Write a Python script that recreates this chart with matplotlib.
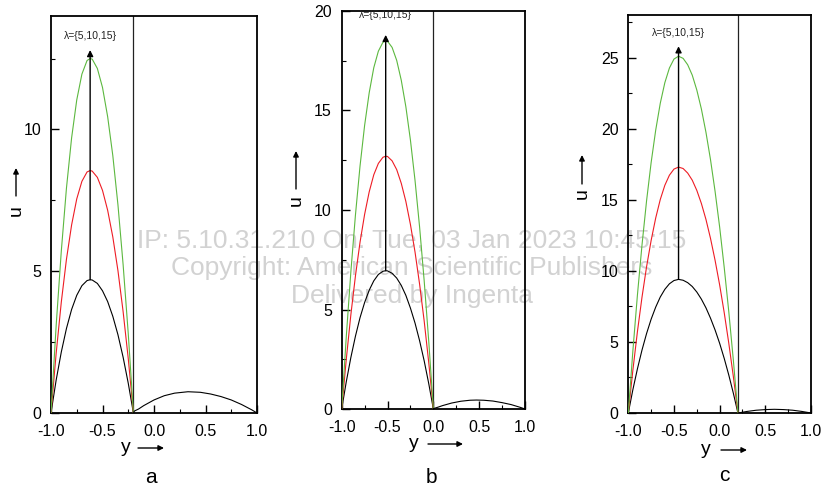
import matplotlib
matplotlib.use("Agg")
import matplotlib.pyplot as plt
from matplotlib.ticker import MultipleLocator

plt.rcParams['font.family'] = ['Liberation Sans', 'DejaVu Sans']

W, H = 822, 490

# ---- data ----
# panel a : interface at y = -0.2
ya_left = [-1.0, -0.95, -0.9, -0.85, -0.8, -0.75, -0.7, -0.65, -0.62, -0.6,
           -0.55, -0.5, -0.45, -0.4, -0.35, -0.3, -0.25, -0.2]
ua_l5 = [0, 1.16, 2.15, 2.98, 3.65, 4.15, 4.49, 4.67, 4.70, 4.69,
         4.57, 4.31, 3.93, 3.41, 2.76, 1.97, 1.05, 0]
ua_l10 = [0, 2.10, 3.91, 5.42, 6.63, 7.55, 8.17, 8.50, 8.55, 8.53,
          8.31, 7.85, 7.15, 6.21, 5.02, 3.58, 1.92, 0]
ua_l15 = [0, 3.08, 5.71, 7.93, 9.70, 11.04, 11.95, 12.43, 12.50, 12.48,
          12.15, 11.48, 10.45, 9.08, 7.34, 5.24, 2.80, 0]
ya_right = [-0.2, -0.19, -0.15, -0.1, -0.05, 0.0, 0.1, 0.2, 0.33, 0.45,
            0.55, 0.65, 0.75, 0.85, 0.95, 1.0]
ua_right = [0.0, 0.07, 0.14, 0.26, 0.36, 0.46, 0.61, 0.70, 0.75, 0.73,
            0.67, 0.58, 0.46, 0.30, 0.11, 0.0]

# panel b : interface at y = 0.0
yb_left = [-1.0, -0.95, -0.9, -0.85, -0.8, -0.75, -0.7, -0.65, -0.6, -0.55,
           -0.52, -0.5, -0.45, -0.4, -0.35, -0.3, -0.25, -0.2, -0.15, -0.1,
           -0.05, 0.0]
ub_l5 = [0, 1.37, 2.59, 3.66, 4.59, 5.35, 5.97, 6.44, 6.76, 6.92, 6.95,
         6.94, 6.82, 6.58, 6.21, 5.71, 5.07, 4.32, 3.43, 2.42, 1.27, 0]
ub_l10 = [0, 2.50, 4.74, 6.69, 8.38, 9.78, 10.91, 11.77, 12.34, 12.65, 12.70,
          12.69, 12.47, 12.03, 11.34, 10.43, 9.27, 7.89, 6.27, 4.42, 2.32, 0]
ub_l15 = [0, 3.64, 6.90, 9.75, 12.21, 14.25, 15.89, 17.15, 17.98, 18.43, 18.50,
          18.48, 18.17, 17.52, 16.52, 15.19, 13.51, 11.49, 9.14, 6.44, 3.39, 0]
yb_right = [0.0, 0.05, 0.1, 0.2, 0.3, 0.4, 0.47, 0.55, 0.65, 0.75, 0.85, 0.95, 1.0]
ub_right = [0.02, 0.09, 0.17, 0.30, 0.39, 0.44, 0.45, 0.44, 0.40, 0.32, 0.22, 0.08, 0.0]

# panel c : interface at y = 0.2
yc_left = [-1.0, -0.95, -0.9, -0.85, -0.8, -0.75, -0.7, -0.65, -0.6, -0.55,
           -0.5, -0.45, -0.4, -0.35, -0.3, -0.25, -0.2, -0.15, -0.1, -0.05,
           0.0, 0.05, 0.1, 0.15, 0.2]
uc_l5 = [0, 1.64, 3.11, 4.43, 5.59, 6.60, 7.45, 8.16, 8.70, 9.09, 9.32, 9.40,
         9.34, 9.17, 8.90, 8.51, 8.01, 7.40, 6.67, 5.84, 4.90, 3.84, 2.67, 1.39, 0]
uc_l10 = [0, 3.01, 5.73, 8.15, 10.29, 12.14, 13.72, 15.02, 16.02, 16.73, 17.16,
          17.30, 17.20, 16.88, 16.38, 15.66, 14.74, 13.62, 12.28, 10.74, 9.01,
          7.06, 4.91, 2.56, 0]
uc_l15 = [0, 4.37, 8.31, 11.82, 14.93, 17.62, 19.90, 21.79, 23.24, 24.27, 24.90,
          25.10, 24.95, 24.50, 23.77, 22.72, 21.39, 19.75, 17.82, 15.59, 13.08,
          10.24, 7.13, 3.71, 0]
yc_right = [0.2, 0.3, 0.4, 0.5, 0.6, 0.7, 0.8, 0.9, 1.0]
uc_right = [0.0, 0.11, 0.195, 0.24, 0.26, 0.24, 0.195, 0.11, 0.0]

interfaces = [-0.2, 0.0, 0.2]
peak_pos = [-0.62, -0.52, -0.45]
arrow_tip = [12.8, 18.8, 25.8]
ymaxes = [14, 20, 28]
panel_names = ['a', 'b', 'c']
lam_text = 'λ={5,10,15}'
xtick_vals = [-1, -0.5, 0, 0.5, 1]
xtick_text = ['-1.0', '-0.5', '0.0', '0.5', '1.0']

panels = [
    (ya_left, [ua_l5, ua_l10, ua_l15], ya_right, ua_right),
    (yb_left, [ub_l5, ub_l10, ub_l15], yb_right, ub_right),
    (yc_left, [uc_l5, uc_l10, uc_l15], yc_right, uc_right),
]
curve_colors = ['black', '#ee1c24', '#5cb83f']

# axes boxes in pixels (left, top, right, bottom)
boxes = [(51, 16, 257, 413), (341.7, 11, 525, 409), (628.3, 15, 811, 413)]
lam_pos = [13.3, 19.8, 26.75]
ylab_pos = [(16, 211, 196, 168), (296, 201, 189, 151), (582, 194, 184, 155)]
xlab_pos = [(126, 447, 138, 164), (414, 443, 428, 463), (706, 449, 721, 747)]
name_pos = [(151, 477), (431, 477), (724, 475)]


def fp(x, y):
    return (x / W, 1 - y / H)


fig = plt.figure(figsize=(W / 100, H / 100), dpi=100)

for i in range(3):
    l, t, r, b = boxes[i]
    ax = fig.add_axes([l / W, 1 - b / H, (r - l) / W, (b - t) / H])
    ax.patch.set_alpha(0)
    yl, curves, yr, ur = panels[i]
    for c, u in zip(curve_colors, curves):
        ax.plot(yl, u, color=c, lw=0.8, zorder=3)
    ax.plot(yr, ur, color='black', lw=0.8, zorder=3)
    ax.axvline(interfaces[i], color='#222222', lw=0.9, zorder=2)

    ax.annotate('', xy=(peak_pos[i], arrow_tip[i]),
                xytext=(peak_pos[i], curves[0][yl.index(peak_pos[i])]),
                arrowprops=dict(arrowstyle='-|>', lw=1.0, color='black',
                                mutation_scale=9, shrinkA=0, shrinkB=0),
                zorder=4)
    ax.text(peak_pos[i], lam_pos[i], lam_text, ha='center', va='center',
            fontsize=7.5, color='#222222')

    ax.set_xlim(-1, 1)
    ax.set_ylim(0, ymaxes[i])
    ax.xaxis.set_minor_locator(MultipleLocator(0.25))
    ax.yaxis.set_major_locator(MultipleLocator(5))
    ax.yaxis.set_minor_locator(MultipleLocator(2.5))
    ax.set_xticks(xtick_vals)
    ax.set_xticklabels(xtick_text)
    ax.tick_params(which='major', direction='in', length=6, width=1.0,
                   labelsize=11.5, pad=8)
    ax.tick_params(which='minor', direction='in', length=3, width=0.8)
    ax.tick_params(axis='y', which='major', pad=7)
    for s in ax.spines.values():
        s.set_linewidth(1.3)

    # axis labels with arrows
    ux, uy, a0, a1 = ylab_pos[i]
    fig.text(*fp(ux, uy), 'u', rotation=90, ha='center', va='center', fontsize=14)
    fig.add_artist(matplotlib.patches.FancyArrowPatch(
        fp(ux, a0), fp(ux, a1), transform=fig.transFigure,
        arrowstyle='-|>', mutation_scale=8, lw=1.0, color='black',
        shrinkA=0, shrinkB=0))
    xx, xy, b0, b1 = xlab_pos[i]
    fig.text(*fp(xx, xy), 'y', ha='center', va='center', fontsize=14)
    fig.add_artist(matplotlib.patches.FancyArrowPatch(
        fp(b0, xy + 1), fp(b1, xy + 1), transform=fig.transFigure,
        arrowstyle='-|>', mutation_scale=8, lw=1.0, color='black',
        shrinkA=0, shrinkB=0))
    nx, ny = name_pos[i]
    fig.text(*fp(nx, ny), panel_names[i], ha='center', va='center', fontsize=15)

# watermark
wm = ['IP: 5.10.31.210 On: Tue, 03 Jan 2023 10:45:15',
      'Copyright: American Scientific Publishers',
      'Delivered by Ingenta']
for k, line in enumerate(wm):
    fig.text(*fp(412, 240 + 28 * k), line, ha='center', va='center',
             fontsize=19, color='#d2d2d2', zorder=-1)

fig.savefig('out.png', dpi=100)
